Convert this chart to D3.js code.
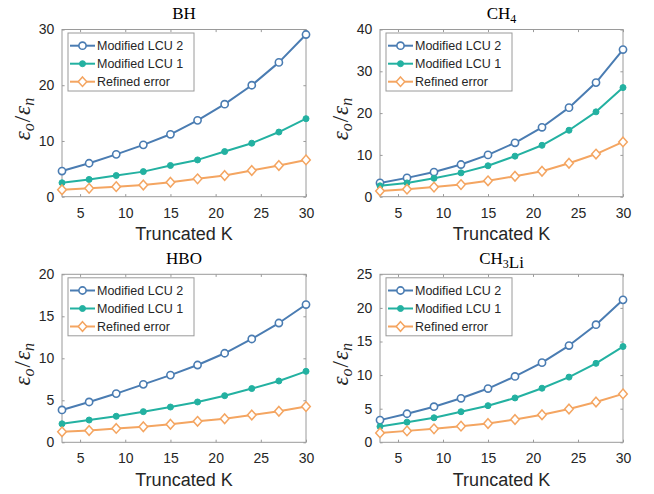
<!DOCTYPE html>
<html>
<head>
<meta charset="utf-8">
<script src="https://cdn.jsdelivr.net/npm/d3@7"></script>
<style>
  html, body { margin: 0; padding: 0; background: #fff; }
  svg { display: block; }
</style>
</head>
<body>
<div id="chart"></div>
<script>
// Truncation order K on the x axis
const kValues = [3, 6, 9, 12, 15, 18, 21, 24, 27, 30];
const xTicks = [5, 10, 15, 20, 25, 30];

const seriesNames = ['Modified LCU 2', 'Modified LCU 1', 'Refined error'];

// BH
const bhLcu2    = [4.6, 6.0, 7.6, 9.3, 11.2, 13.7, 16.6, 20.0, 24.1, 29.1];
const bhLcu1    = [2.5, 3.1, 3.8, 4.5, 5.6, 6.6, 8.1, 9.6, 11.6, 14.0];
const bhRefined = [1.25, 1.5, 1.8, 2.1, 2.6, 3.2, 3.8, 4.7, 5.6, 6.6];
const bhTicks   = [0, 10, 20, 30];

// CH4
const ch4Lcu2    = [3.3, 4.5, 5.9, 7.7, 10.0, 12.9, 16.6, 21.3, 27.3, 35.2];
const ch4Lcu1    = [2.6, 3.3, 4.4, 5.7, 7.4, 9.7, 12.3, 15.9, 20.3, 26.1];
const ch4Refined = [1.35, 1.8, 2.3, 2.9, 3.8, 4.9, 6.1, 8.0, 10.2, 13.1];
const ch4Ticks   = [0, 10, 20, 30, 40];

// HBO
const hboLcu2    = [3.85, 4.8, 5.8, 6.9, 8.0, 9.2, 10.6, 12.3, 14.2, 16.4];
const hboLcu1    = [2.2, 2.65, 3.1, 3.65, 4.2, 4.8, 5.55, 6.4, 7.3, 8.45];
const hboRefined = [1.25, 1.4, 1.65, 1.85, 2.15, 2.5, 2.8, 3.25, 3.7, 4.25];
const hboTicks   = [0, 5, 10, 15, 20];

// CH3Li
const ch3liLcu2    = [3.3, 4.25, 5.3, 6.55, 8.0, 9.8, 11.85, 14.4, 17.5, 21.2];
const ch3liLcu1    = [2.35, 3.0, 3.65, 4.55, 5.45, 6.6, 8.05, 9.7, 11.75, 14.25];
const ch3liRefined = [1.4, 1.7, 2.0, 2.4, 2.8, 3.4, 4.1, 4.95, 6.0, 7.2];
const ch3liTicks   = [0, 5, 10, 15, 20, 25];

const width = 654, height = 494;
const colors = ['#4a7cb2', '#23b1a1', '#f4a561'];
const axisColor = '#9a9a9a';
const textColor = '#262626';
const sansFont = '"Liberation Sans", Arial, Helvetica, sans-serif';
const serifFont = '"Liberation Serif", "Times New Roman", serif';

// title given as [text, subscript] pieces
const panels = [
    { title: [['BH', null]], series: [bhLcu2, bhLcu1, bhRefined], yTicks: bhTicks,
      x0: 62, x1: 306, y0: 29.5, y1: 196.7 },
    { title: [['CH', '4']], series: [ch4Lcu2, ch4Lcu1, ch4Refined], yTicks: ch4Ticks,
      x0: 380, x1: 623, y0: 29.5, y1: 196.7 },
    { title: [['HBO', null]], series: [hboLcu2, hboLcu1, hboRefined], yTicks: hboTicks,
      x0: 62, x1: 306, y0: 274.3, y1: 442.3 },
    { title: [['CH', '3'], ['Li', null]], series: [ch3liLcu2, ch3liLcu1, ch3liRefined], yTicks: ch3liTicks,
      x0: 380, x1: 623, y0: 274.3, y1: 442.3 }
];

const svg = d3.select('#chart').append('svg')
    .attr('width', width)
    .attr('height', height)
    .attr('viewBox', `0 0 ${width} ${height}`);

function drawMarker(sel, kind, color) {
    if (kind === 0) {
        sel.append('circle').attr('r', 3.6)
            .attr('fill', '#fff').attr('stroke', color).attr('stroke-width', 1.6);
    } else if (kind === 1) {
        sel.append('circle').attr('r', 3)
            .attr('fill', color).attr('stroke', color).attr('stroke-width', 1);
    } else {
        sel.append('path').attr('d', 'M0,-4.8L4.3,0L0,4.8L-4.3,0Z')
            .attr('fill', '#fff').attr('stroke', color).attr('stroke-width', 1.5);
    }
}

panels.forEach(p => {
    const xScale = d3.scaleLinear().domain([3, 30]).range([p.x0, p.x1]);
    const yMax = p.yTicks[p.yTicks.length - 1];
    const yScale = d3.scaleLinear().domain([0, yMax]).range([p.y1, p.y0]);
    const g = svg.append('g');

    // axes box
    g.append('rect')
        .attr('x', p.x0).attr('y', p.y0)
        .attr('width', p.x1 - p.x0).attr('height', p.y1 - p.y0)
        .attr('fill', '#fff').attr('stroke', axisColor).attr('stroke-width', 1);

    // inward ticks, mirrored on top/right like MATLAB
    const tl = 2.6;
    const xAx = d3.axisBottom(xScale).tickValues(xTicks).tickSizeInner(-tl).tickSizeOuter(0).tickPadding(tl + 8.5);
    const xAxTop = d3.axisTop(xScale).tickValues(xTicks).tickSizeInner(-tl).tickSizeOuter(0).tickFormat('');
    const yAx = d3.axisLeft(yScale).tickValues(p.yTicks).tickSizeInner(-tl).tickSizeOuter(0).tickPadding(tl + 5);
    const yAxRight = d3.axisRight(yScale).tickValues(p.yTicks).tickSizeInner(-tl).tickSizeOuter(0).tickFormat('');

    [[xAx, `translate(0,${p.y1})`], [xAxTop, `translate(0,${p.y0})`],
     [yAx, `translate(${p.x0},0)`], [yAxRight, `translate(${p.x1},0)`]].forEach(([ax, tr]) => {
        const a = g.append('g').attr('transform', tr).call(ax);
        a.select('.domain').remove();
        a.selectAll('line').attr('stroke', axisColor);
        a.selectAll('text')
            .attr('fill', textColor)
            .style('font-family', sansFont)
            .style('font-size', '14px');
    });

    // series lines and markers
    const line = d3.line()
        .x((d, i) => xScale(kValues[i]))
        .y(d => yScale(d));

    p.series.forEach((vals, si) => {
        g.append('path').datum(vals)
            .attr('fill', 'none')
            .attr('stroke', colors[si])
            .attr('stroke-width', 2)
            .attr('stroke-linejoin', 'round')
            .attr('d', line);
        vals.forEach((v, i) => {
            const m = g.append('g')
                .attr('transform', `translate(${xScale(kValues[i])},${yScale(v)})`);
            drawMarker(m, si, colors[si]);
        });
    });

    // title
    const cx = (p.x0 + p.x1) / 2;
    const t = g.append('text')
        .attr('x', cx).attr('y', p.y0 - 10.5)
        .attr('text-anchor', 'middle')
        .attr('fill', '#000')
        .style('font-family', serifFont)
        .style('font-size', '17px');
    p.title.forEach(([txt, sub]) => {
        t.append('tspan').text(txt);
        if (sub) {
            t.append('tspan').attr('dy', 4).style('font-size', '12px').text(sub);
            t.append('tspan').attr('dy', -4).text('');
        }
    });

    // x label
    g.append('text')
        .attr('x', cx).attr('y', p.y1 + 43.5)
        .attr('text-anchor', 'middle')
        .attr('fill', textColor)
        .style('font-family', sansFont)
        .style('font-size', '18px')
        .text('Truncated K');

    // y label: eps_o / eps_n
    const cy = (p.y0 + p.y1) / 2 + 6;
    const yl = g.append('text')
        .attr('transform', `translate(${p.x0 - 32},${cy}) rotate(-90)`)
        .attr('text-anchor', 'middle')
        .attr('fill', textColor)
        .style('font-family', serifFont)
        .style('font-style', 'italic')
        .style('font-size', '23px');
    yl.append('tspan').text('ε');
    yl.append('tspan').attr('dy', 4).style('font-size', '16px').text('o');
    yl.append('tspan').attr('dy', -4).attr('dx', 1).style('font-style', 'normal').text('/');
    yl.append('tspan').attr('dx', 1).text('ε');
    yl.append('tspan').attr('dy', 4).style('font-size', '16px').text('n');

    // legend
    const lg = g.append('g').attr('transform', `translate(${p.x0 + 6},${p.y0 + 3.5})`);
    lg.append('rect')
        .attr('width', 126).attr('height', 58)
        .attr('fill', '#fff').attr('stroke', axisColor).attr('stroke-width', 1);
    seriesNames.forEach((name, si) => {
        const row = lg.append('g').attr('transform', `translate(0,${12.7 + si * 18})`);
        row.append('line')
            .attr('x1', 2).attr('x2', 27)
            .attr('stroke', colors[si]).attr('stroke-width', 2);
        drawMarker(row.append('g').attr('transform', 'translate(14.5,0)'), si, colors[si]);
        row.append('text')
            .attr('x', 29).attr('y', 4.5)
            .attr('fill', textColor)
            .style('font-family', sansFont)
            .style('font-size', '12.5px')
            .text(name);
    });
});
</script>
</body>
</html>
